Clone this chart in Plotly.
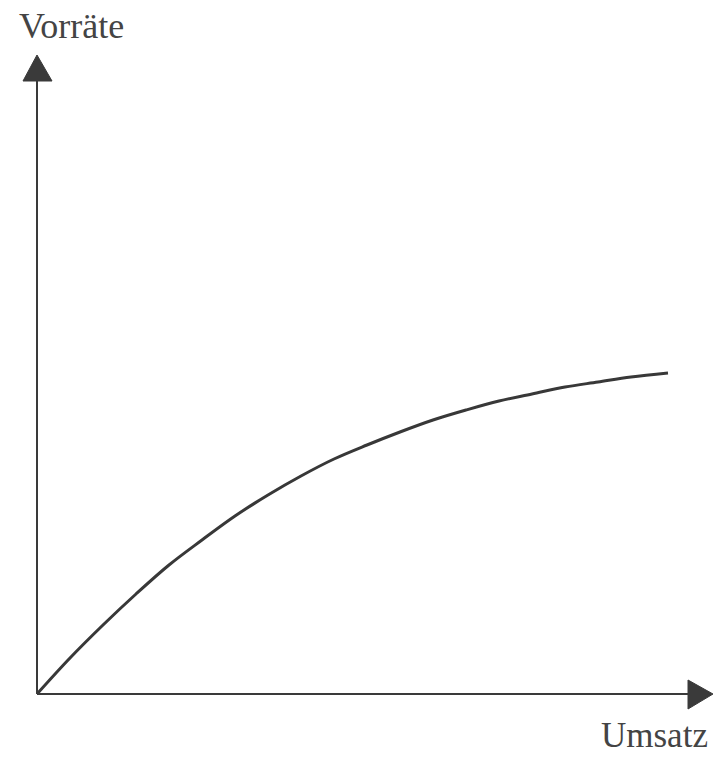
import plotly.graph_objects as go

# Values (arbitrary units)
umsatz = [0, 33, 66, 99, 132, 165, 198, 231, 264, 297, 330, 363, 396, 429, 462, 495, 528, 561, 594, 631]
vorraete = [0, 36, 69, 100, 129, 154, 178, 199, 218, 235, 249, 262, 274, 284, 293, 300, 307, 312, 317, 321]

x_label = "Umsatz"
y_label = "Vorräte"

x_axis_end = 676
y_axis_end = 639

axis_color = "#3a3a3a"
font_family = "Liberation Serif, Times New Roman, serif"

fig = go.Figure()
fig.add_trace(go.Scatter(
    x=umsatz, y=vorraete, mode="lines",
    line=dict(color="#383838", width=3, shape="spline", smoothing=1.0),
    hoverinfo="skip", showlegend=False,
))

shapes = [
    dict(type="line", xref="x", yref="y", x0=0, y0=0, x1=0, y1=y_axis_end - 20,
         line=dict(color=axis_color, width=2)),
    dict(type="line", xref="x", yref="y", x0=0, y0=0, x1=x_axis_end - 20, y1=0,
         line=dict(color=axis_color, width=2)),
    dict(type="path", xref="x", yref="y",
         path=f"M -14 {y_axis_end - 26} L 15 {y_axis_end - 26} L 0 {y_axis_end} Z",
         fillcolor=axis_color, line=dict(color=axis_color, width=1)),
    dict(type="path", xref="x", yref="y",
         path=f"M {x_axis_end - 25} 14 L {x_axis_end - 25} -15 L {x_axis_end} 0 Z",
         fillcolor=axis_color, line=dict(color=axis_color, width=1)),
]

annotations = [
    dict(text=y_label, xref="x", yref="y", x=-20, y=668, xanchor="left", yanchor="middle",
         showarrow=False, font=dict(family=font_family, size=36, color="#444444")),
    dict(text=x_label, xref="x", yref="y", x=673, y=-41, xanchor="right", yanchor="middle",
         showarrow=False, font=dict(family=font_family, size=35, color="#444444")),
]

fig.update_layout(
    width=716, height=757,
    margin=dict(l=0, r=0, t=0, b=0),
    paper_bgcolor="white", plot_bgcolor="white",
    xaxis=dict(range=[-37, 679], visible=False, fixedrange=True),
    yaxis=dict(range=[-63, 694], visible=False, fixedrange=True),
    shapes=shapes, annotations=annotations,
)

fig.write_html(
    "out.html",
    config={"displayModeBar": False},
    post_script="document.body.style.margin='0';document.body.style.overflow='hidden';",
)
